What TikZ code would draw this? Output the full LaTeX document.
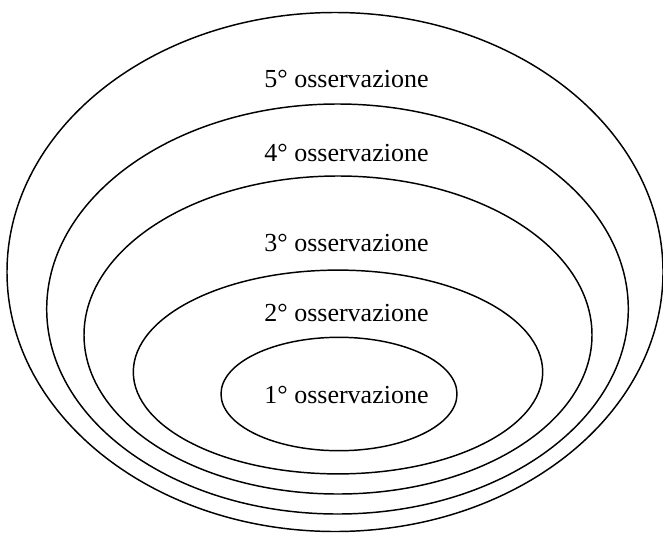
\documentclass[tikz,border=0pt]{standalone}
\usepackage{fontspec}
\setmainfont{Liberation Serif}
\begin{document}
\begin{tikzpicture}[x=0.75pt,y=-0.75pt,
  ring/.style={draw=black,line width=1.1pt},
  lab/.style={anchor=base,inner sep=0pt,font=\fontsize{19.5}{22}\selectfont}]
\useasboundingbox (0,0) rectangle (663,532);
\draw[ring] (335,272) ellipse [x radius=328, y radius=259.5];
\draw[ring] (337.5,309) ellipse [x radius=290.8, y radius=205];
\draw[ring] (338,335) ellipse [x radius=254, y radius=159];
\draw[ring] (338,372) ellipse [x radius=204.7, y radius=101.9];
\draw[ring] (339,394) ellipse [x radius=118, y radius=56.7];
\node[lab] (l5) at (346.5,87.3) {5° osservazione};
\node[lab] (l4) at (346.5,161.7) {4° osservazione};
\node[lab] (l3) at (346.5,251.7) {3° osservazione};
\node[lab] (l2) at (346.5,321.7) {2° osservazione};
\node[lab] (l1) at (346.5,403.3) {1° osservazione};
\end{tikzpicture}
\end{document}
